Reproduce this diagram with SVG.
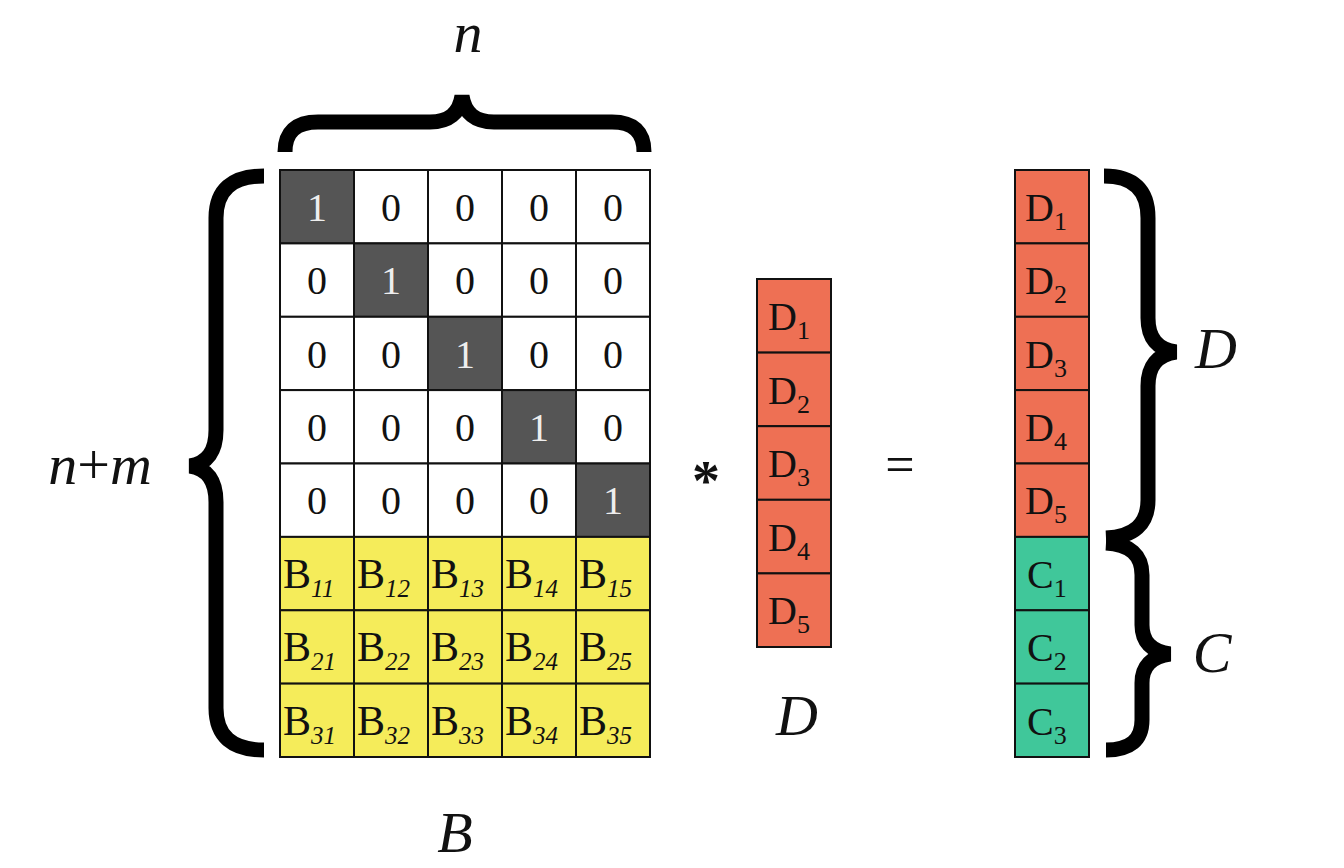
<svg xmlns="http://www.w3.org/2000/svg" width="1344" height="868" viewBox="0 0 1344 868">
<style>
text{font-family:"Liberation Serif",serif;fill:#111}
.c{stroke:#111;stroke-width:2}
.w{fill:#fff}.k{fill:#555}.y{fill:#F5EC5A}.r{fill:#EE7054}.g{fill:#40C79A}
.t{font-size:40px;text-anchor:middle}
.s{font-size:25px;font-style:italic}
.br{fill:none;stroke:#000;stroke-width:15}
.it{font-style:italic;font-size:58px;text-anchor:middle}
</style>
<rect width="1344" height="868" fill="#fff"/>
<g id="matrixB">
<g id="identity">
<rect class="c k" x="280" y="170" width="74" height="73.4"/><rect class="c w" x="354" y="170" width="74" height="73.4"/><rect class="c w" x="428" y="170" width="74" height="73.4"/><rect class="c w" x="502" y="170" width="74" height="73.4"/><rect class="c w" x="576" y="170" width="74" height="73.4"/>
<rect class="c w" x="280" y="243.4" width="74" height="73.4"/><rect class="c k" x="354" y="243.4" width="74" height="73.4"/><rect class="c w" x="428" y="243.4" width="74" height="73.4"/><rect class="c w" x="502" y="243.4" width="74" height="73.4"/><rect class="c w" x="576" y="243.4" width="74" height="73.4"/>
<rect class="c w" x="280" y="316.8" width="74" height="73.4"/><rect class="c w" x="354" y="316.8" width="74" height="73.4"/><rect class="c k" x="428" y="316.8" width="74" height="73.4"/><rect class="c w" x="502" y="316.8" width="74" height="73.4"/><rect class="c w" x="576" y="316.8" width="74" height="73.4"/>
<rect class="c w" x="280" y="390.1" width="74" height="73.4"/><rect class="c w" x="354" y="390.1" width="74" height="73.4"/><rect class="c w" x="428" y="390.1" width="74" height="73.4"/><rect class="c k" x="502" y="390.1" width="74" height="73.4"/><rect class="c w" x="576" y="390.1" width="74" height="73.4"/>
<rect class="c w" x="280" y="463.5" width="74" height="73.4"/><rect class="c w" x="354" y="463.5" width="74" height="73.4"/><rect class="c w" x="428" y="463.5" width="74" height="73.4"/><rect class="c w" x="502" y="463.5" width="74" height="73.4"/><rect class="c k" x="576" y="463.5" width="74" height="73.4"/>
<g class="t">
<text x="317" y="221" style="fill:#eee">1</text><text x="391" y="221">0</text><text x="465" y="221">0</text><text x="539" y="221">0</text><text x="613" y="221">0</text>
<text x="317" y="294">0</text><text x="391" y="294" style="fill:#eee">1</text><text x="465" y="294">0</text><text x="539" y="294">0</text><text x="613" y="294">0</text>
<text x="317" y="368">0</text><text x="391" y="368">0</text><text x="465" y="368" style="fill:#eee">1</text><text x="539" y="368">0</text><text x="613" y="368">0</text>
<text x="317" y="441">0</text><text x="391" y="441">0</text><text x="465" y="441">0</text><text x="539" y="441" style="fill:#eee">1</text><text x="613" y="441">0</text>
<text x="317" y="514">0</text><text x="391" y="514">0</text><text x="465" y="514">0</text><text x="539" y="514">0</text><text x="613" y="514" style="fill:#eee">1</text>
</g>
</g>
<g id="Brows">
<rect class="c y" x="280" y="536.9" width="74" height="73.4"/><rect class="c y" x="354" y="536.9" width="74" height="73.4"/><rect class="c y" x="428" y="536.9" width="74" height="73.4"/><rect class="c y" x="502" y="536.9" width="74" height="73.4"/><rect class="c y" x="576" y="536.9" width="74" height="73.4"/>
<rect class="c y" x="280" y="610.3" width="74" height="73.4"/><rect class="c y" x="354" y="610.3" width="74" height="73.4"/><rect class="c y" x="428" y="610.3" width="74" height="73.4"/><rect class="c y" x="502" y="610.3" width="74" height="73.4"/><rect class="c y" x="576" y="610.3" width="74" height="73.4"/>
<rect class="c y" x="280" y="683.6" width="74" height="73.4"/><rect class="c y" x="354" y="683.6" width="74" height="73.4"/><rect class="c y" x="428" y="683.6" width="74" height="73.4"/><rect class="c y" x="502" y="683.6" width="74" height="73.4"/><rect class="c y" x="576" y="683.6" width="74" height="73.4"/>
<g style="font-size:42px">
<text x="283" y="588">B<tspan class="s" dy="9">11</tspan></text><text x="357" y="588">B<tspan class="s" dy="9">12</tspan></text><text x="431" y="588">B<tspan class="s" dy="9">13</tspan></text><text x="505" y="588">B<tspan class="s" dy="9">14</tspan></text><text x="579" y="588">B<tspan class="s" dy="9">15</tspan></text>
<text x="283" y="661">B<tspan class="s" dy="9">21</tspan></text><text x="357" y="661">B<tspan class="s" dy="9">22</tspan></text><text x="431" y="661">B<tspan class="s" dy="9">23</tspan></text><text x="505" y="661">B<tspan class="s" dy="9">24</tspan></text><text x="579" y="661">B<tspan class="s" dy="9">25</tspan></text>
<text x="283" y="735">B<tspan class="s" dy="9">31</tspan></text><text x="357" y="735">B<tspan class="s" dy="9">32</tspan></text><text x="431" y="735">B<tspan class="s" dy="9">33</tspan></text><text x="505" y="735">B<tspan class="s" dy="9">34</tspan></text><text x="579" y="735">B<tspan class="s" dy="9">35</tspan></text>
</g>
</g>
</g>
<g id="vectorD">
<rect class="c r" x="757" y="279" width="74" height="73.6"/><rect class="c r" x="757" y="352.6" width="74" height="73.6"/><rect class="c r" x="757" y="426.2" width="74" height="73.6"/><rect class="c r" x="757" y="499.8" width="74" height="73.6"/><rect class="c r" x="757" y="573.4" width="74" height="73.6"/>
<g style="font-size:40px">
<text x="768" y="330">D<tspan style="font-size:26px" dy="9">1</tspan></text><text x="768" y="404">D<tspan style="font-size:26px" dy="9">2</tspan></text><text x="768" y="477">D<tspan style="font-size:26px" dy="9">3</tspan></text><text x="768" y="551">D<tspan style="font-size:26px" dy="9">4</tspan></text><text x="768" y="624">D<tspan style="font-size:26px" dy="9">5</tspan></text>
</g>
</g>
<g id="result">
<rect class="c r" x="1015" y="170" width="74" height="73.4"/><rect class="c r" x="1015" y="243.4" width="74" height="73.4"/><rect class="c r" x="1015" y="316.8" width="74" height="73.4"/><rect class="c r" x="1015" y="390.1" width="74" height="73.4"/><rect class="c r" x="1015" y="463.5" width="74" height="73.4"/>
<rect class="c g" x="1015" y="536.9" width="74" height="73.4"/><rect class="c g" x="1015" y="610.3" width="74" height="73.4"/><rect class="c g" x="1015" y="683.6" width="74" height="73.4"/>
<g style="font-size:40px">
<text x="1025" y="221">D<tspan style="font-size:26px" dy="9">1</tspan></text><text x="1025" y="294">D<tspan style="font-size:26px" dy="9">2</tspan></text><text x="1025" y="368">D<tspan style="font-size:26px" dy="9">3</tspan></text><text x="1025" y="441">D<tspan style="font-size:26px" dy="9">4</tspan></text><text x="1025" y="514">D<tspan style="font-size:26px" dy="9">5</tspan></text>
<text x="1027" y="588">C<tspan style="font-size:26px" dy="9">1</tspan></text><text x="1027" y="661">C<tspan style="font-size:26px" dy="9">2</tspan></text><text x="1027" y="735">C<tspan style="font-size:26px" dy="9">3</tspan></text>
</g>
</g>
<g id="braces">
<path class="br" d="M285,152 Q285,122 318,122 L430,122 Q458,122 462,96 Q466,122 494,122 L612,122 Q644,122 644,152"/>
<path class="br" d="M264,176 Q216,176 216,218 L216,430 Q216,462 190,466 Q216,470 216,502 L216,708 Q216,750 264,750"/>
<path class="br" d="M1104,176 Q1148,176 1148,218 L1148,318 Q1148,348 1176,352 Q1148,356 1148,386 L1148,500 Q1148,536 1106,538"/>
<path class="br" d="M1106,543 Q1142,545 1142,575 L1142,625 Q1142,650 1170,654 Q1142,658 1142,683 L1142,720 Q1142,750 1106,750"/>
</g>
<g id="labels">
<text class="it" x="468" y="52">n</text>
<text x="100" y="484" style="font-size:58px;font-style:italic;text-anchor:middle">n<tspan style="font-style:normal">+</tspan>m</text>
<text class="it" x="455" y="852">B</text>
<text class="it" x="797" y="735">D</text>
<text class="it" x="1216" y="368">D</text>
<text class="it" x="1212" y="672">C</text>
<text x="706" y="500" style="font-size:56px;font-weight:bold;text-anchor:middle">*</text>
<text x="900" y="482" style="font-size:52px;text-anchor:middle">=</text>
</g>
</svg>
